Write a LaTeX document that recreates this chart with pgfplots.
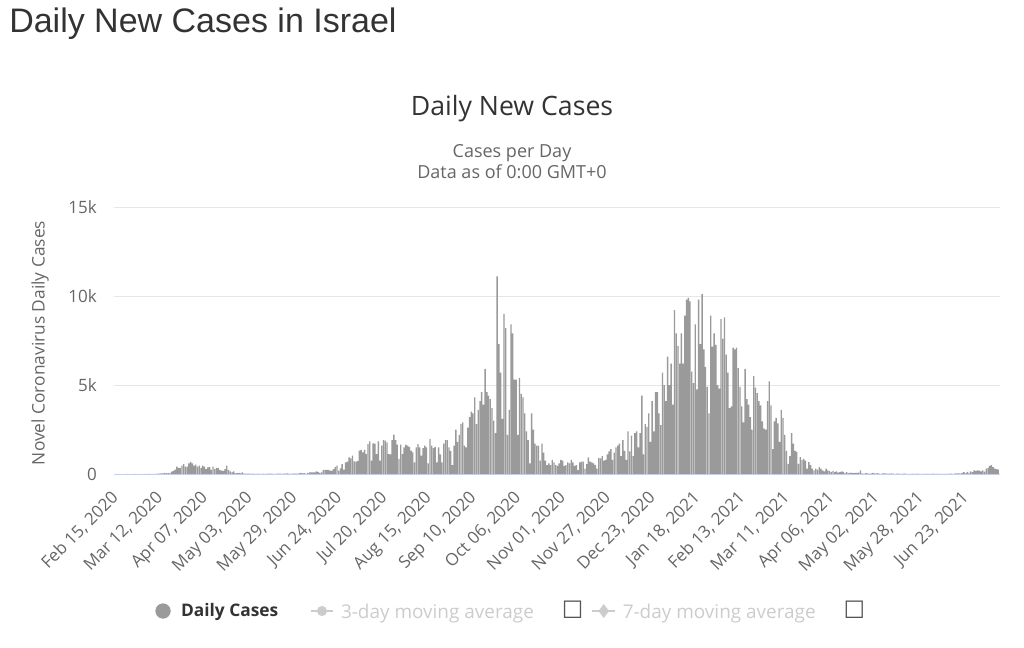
\documentclass[border=0pt]{standalone}
\usepackage{pgfplots}
\pgfplotsset{compat=1.18}
\usepackage{pgfplotstable}
\usepackage{fontspec}
\setmainfont{Open Sans}
\newfontfamily\titlefont{Liberation Sans}
\newfontfamily\symfont{DejaVu Sans}
\definecolor{c333}{HTML}{333333}
\definecolor{c666}{HTML}{666666}
\definecolor{gridc}{HTML}{E6E6E6}
\definecolor{axisc}{HTML}{CCD6EB}
\definecolor{barc}{HTML}{9A9A9A}
\definecolor{legoff}{HTML}{CCCCCC}
\definecolor{boxc}{HTML}{555555}

% daily new cases, one row per day starting Feb 15, 2020
\pgfplotstableread[row sep=\\, header=false]{
0\\0\\0\\0\\0\\0\\1\\0\\0\\0\\0\\1\\0\\1\\0\\0\\1\\0\\2\\3\\5\\4\\9\\14\\20\\25\\40\\35\\60\\50\\50\\70\\
130\\180\\245\\410\\340\\340\\470\\560\\410\\420\\600\\680\\600\\470\\530\\410\\470\\340\\470\\410\\280\\375\\380\\225\\410\\280\\340\\330\\225\\190\\180\\280\\470\\230\\150\\95\\150\\40\\45\\60\\30\\95\\30\\20\\15\\
16\\12\\20\\5\\13\\16\\10\\5\\17\\9\\12\\20\\15\\25\\10\\5\\20\\15\\27\\4\\20\\17\\30\\15\\8\\25\\40\\20\\15\\40\\60\\30\\50\\20\\
60\\95\\95\\95\\95\\150\\120\\60\\90\\225\\225\\225\\225\\190\\190\\280\\400\\470\\190\\320\\560\\250\\650\\690\\935\\880\\1030\\710\\700\\720\\1310\\1350\\1215\\1350\\1120\\1680\\1830\\750\\1720\\1700\\1120\\1830\\750\\1590\\1910\\1870\\1780\\1120\\1100\\1910\\2210\\1910\\1650\\840\\1650\\1120\\1500\\1650\\1590\\1530\\1310\\1215\\650\\1500\\1680\\1500\\1030\\1460\\1590\\1500\\600\\1960\\1590\\1460\\1530\\650\\
1500\\1100\\650\\1700\\1900\\1900\\1500\\1300\\500\\1600\\2500\\1800\\2200\\2800\\2900\\1600\\1500\\2600\\3200\\3500\\3400\\4300\\2800\\3600\\4100\\4600\\3900\\5900\\4600\\4400\\4200\\3700\\3000\\2300\\11100\\7300\\5700\\3100\\9000\\8200\\2200\\3600\\8400\\7900\\5300\\5300\\2200\\5400\\4500\\4300\\3400\\2400\\1900\\600\\3400\\2500\\1700\\1600\\1600\\750\\1700\\1200\\750\\500\\600\\500\\800\\650\\500\\450\\
600\\800\\750\\450\\500\\650\\600\\800\\650\\450\\500\\220\\650\\700\\700\\300\\560\\940\\700\\650\\600\\500\\300\\900\\880\\1000\\750\\800\\1100\\1270\\1400\\800\\1200\\1500\\1600\\1700\\1000\\1900\\1300\\800\\2400\\1270\\2150\\1000\\2300\\2400\\1500\\2300\\
4400\\1100\\2800\\2650\\3400\\1800\\4100\\2400\\4600\\4600\\3400\\2750\\5700\\5000\\4100\\6600\\5000\\6200\\3900\\9200\\7900\\7200\\6200\\7900\\6200\\8900\\9800\\9900\\9700\\5750\\5100\\8400\\4750\\9800\\7300\\10100\\7000\\6000\\4900\\3400\\8900\\7150\\7900\\7250\\5000\\
4800\\8700\\7600\\8800\\6700\\5700\\3700\\3800\\7100\\7000\\7100\\5950\\4900\\3800\\2900\\
5900\\4200\\3900\\3200\\2500\\5500\\4850\\4550\\4100\\3850\\2950\\2550\\2500\\4100\\5200\\3850\\1400\\2950\\3150\\2850\\1800\\3600\\3150\\2200\\1300\\570\\1000\\2300\\1700\\1300\\1250\\570\\950\\800\\850\\750\\300\\670\\500\\300\\200\\300\\250\\380\\300\\200\\150\\300\\200\\180\\120\\180\\100\\150\\80\\100\\150\\120\\60\\100\\50\\80\\60\\50\\70\\60\\80\\200\\
30\\20\\50\\40\\25\\15\\60\\40\\30\\50\\20\\10\\40\\30\\25\\20\\15\\30\\20\\10\\20\\15\\10\\5\\20\\15\\10\\8\\5\\15\\10\\5\\20\\10\\5\\5\\10\\15\\5\\10\\5\\20\\10\\5\\15\\10\\8\\5\\10\\5\\10\\20\\15\\10\\30\\40\\30\\20\\
60\\100\\40\\120\\80\\150\\100\\200\\180\\200\\190\\150\\210\\130\\300\\350\\450\\500\\380\\300\\280\\250\\
}\dailycases

\begin{document}
\begin{tikzpicture}[x=0.75pt, y=-0.75pt]
\path[use as bounding box] (0,0) rectangle (1024,648);
\node[anchor=base west, inner sep=0, font=\titlefont\fontsize{25.5}{30}\selectfont, text=c333] at (9,33) {Daily New Cases in Israel};
\node[anchor=base, inner sep=0, font=\fontsize{20}{24}\selectfont, text=c333] at (512,116) {Daily New Cases};
\node[anchor=base, inner sep=0, font=\fontsize{13.5}{16}\selectfont, text=c666] at (512,158) {Cases per Day};
\node[anchor=base, inner sep=0, font=\fontsize{13.5}{16}\selectfont, text=c666] at (512,179) {Data as of 0:00 GMT+0};
\node[rotate=90, inner sep=0, font=\fontsize{13}{16}\selectfont, text=c666] at (40,343) {Novel Coronavirus Daily Cases};
\begin{axis}[
  at={(85.5pt,-355.5pt)}, anchor=south west,
  scale only axis, width=664.5pt, height=200.25pt,
  xmin=-1.5, xmax=513, ymin=0, ymax=15000,
  scaled y ticks=false,
  axis x line*=bottom, axis y line*=left,
  x axis line style={-, draw=axisc, line width=0.75pt},
  y axis line style={draw=none},
  major tick length=0pt,
  ytick={0,5000,10000,15000},
  yticklabels={0,5k,10k,15k},
  ymajorgrids, grid style={gridc, line width=0.75pt},
  yticklabel style={font=\fontsize{12.75}{15}\selectfont, text=c666, inner sep=0pt, xshift=-12.75pt},
  xtick={0,26,...,494},
  xticklabels={{Feb 15, 2020},{Mar 12, 2020},{Apr 07, 2020},{May 03, 2020},{May 29, 2020},{Jun 24, 2020},{Jul 20, 2020},{Aug 15, 2020},{Sep 10, 2020},{Oct 06, 2020},{Nov 01, 2020},{Nov 27, 2020},{Dec 23, 2020},{Jan 18, 2021},{Feb 13, 2021},{Mar 11, 2021},{Apr 06, 2021},{May 02, 2021},{May 28, 2021},{Jun 23, 2021}},
  xticklabel style={font=\fontsize{12.75}{15}\selectfont, text=c666, rotate=45, anchor=north east, inner sep=0pt, xshift=-11.7pt, yshift=-4.6pt},
  legend columns=3,
  legend style={at={(0.445,0)}, anchor=center, xshift=2.625pt, yshift=-102.75pt, draw=none, fill=none,
    font=\fontsize{14.2}{17}\selectfont,
    /tikz/every odd column/.append style={column sep=3pt},
    /tikz/every even column/.append style={column sep=21.5pt}},
]
\addplot[ybar, bar width=0.8, fill=barc, draw=none, forget plot]
  table[x expr=\coordindex, y index=0] {\dailycases};
\addlegendimage{only marks, mark=*, mark size=5.5pt, color=barc}
\addlegendentry{\hspace{3pt}\fontsize{13}{16}\selectfont\bfseries\color{c333}Daily Cases}
\addlegendimage{color=legoff, line width=1.5pt, mark=*, mark size=3pt}
\addlegendentry{\makebox[164.25pt][l]{\color{legoff}3-day moving average\hspace{21pt}{\symfont\fontsize{18}{18}\selectfont\color{boxc}☐}}}
\addlegendimage{color=legoff, line width=1.5pt, mark=diamond*, mark size=4pt}
\addlegendentry{\color{legoff}7-day moving average\hspace{21pt}{\symfont\fontsize{18}{18}\selectfont\color{boxc}☐}}
\end{axis}
\end{tikzpicture}
\end{document}
